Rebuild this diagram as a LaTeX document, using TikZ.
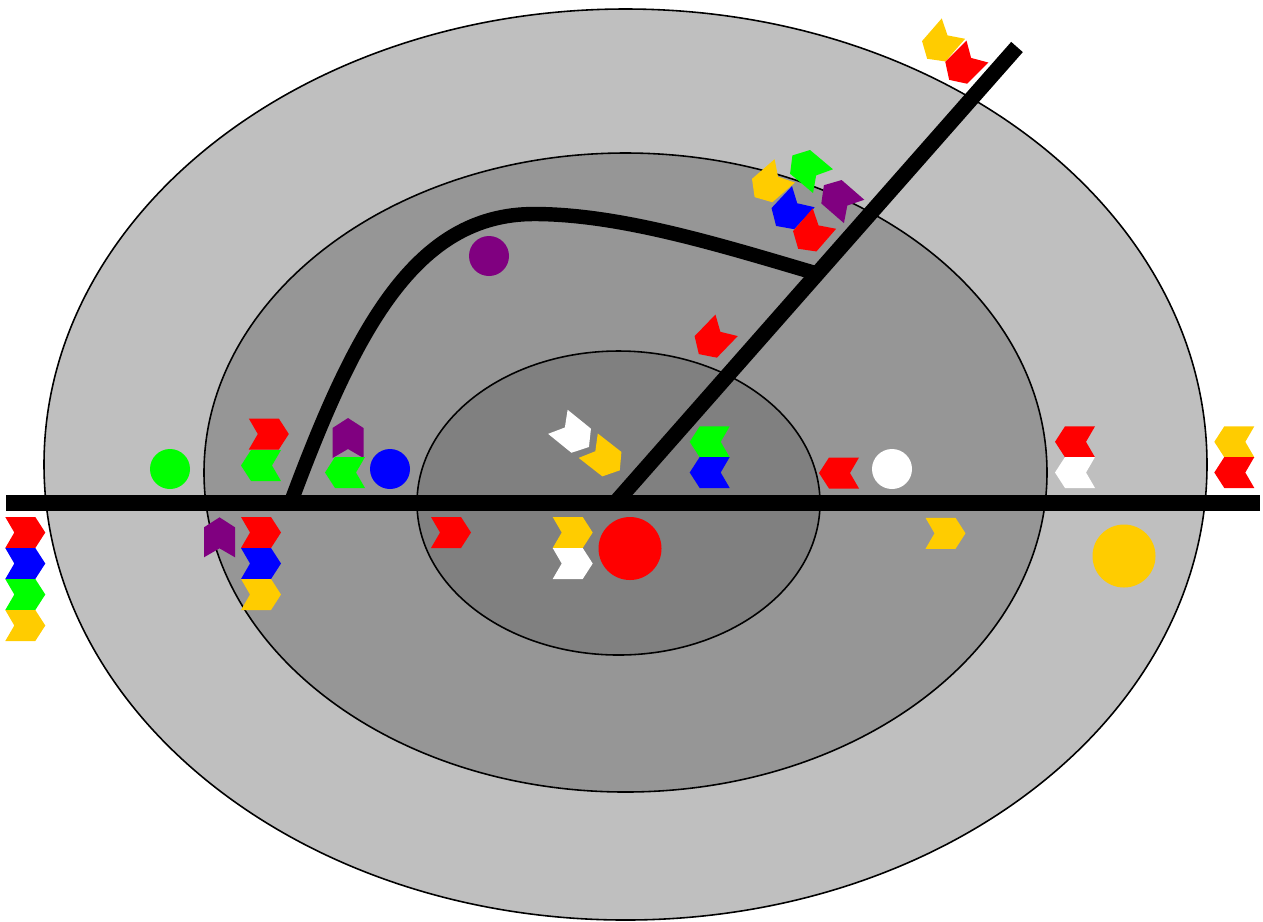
\documentclass[tikz,border=0pt]{standalone}
\usepackage{tikz}
\usepackage{xcolor}
\definecolor{ringOuter}{HTML}{BFBFBF}
\definecolor{ringMid}{HTML}{969696}
\definecolor{ringInner}{HTML}{808080}
\definecolor{tagYellow}{HTML}{FFCC00}
\definecolor{tagPurple}{HTML}{800080}
\definecolor{tagGreen}{HTML}{00FF00}

% one chevron: x, y, heading, colour
\newcommand{\chev}[4]{%
  \fill[#4,shift={(#1,#2)},rotate=#3]
    (-20,-15.5) -- (10,-15.5) -- (20,0) -- (10,15.5) -- (-20,15.5) -- (-11,0) -- cycle;}

\begin{document}
\begin{tikzpicture}[x=0.02cm,y=-0.02cm,
  ring/.style={draw=black,line width=0.9pt},
  track/.style={black,line width=8.8pt},
  spur/.style={black,line width=8.2pt}]

  \useasboundingbox (0,0) rectangle (1263,921);

  % zones
  \draw[ring,fill=ringOuter] (625.5,464.5) ellipse (581.5 and 455.5);
  \draw[ring,fill=ringMid] (625.5,472.5) ellipse (421.5 and 319.5);
  \draw[ring,fill=ringInner] (618.5,503) ellipse (201.5 and 152);

  % tracks
  \coordinate (west) at (6,502.8);
  \coordinate (east) at (1260,502.8);
  \coordinate (hub) at (616,502);
  \coordinate (tip) at (1017,47);
  \coordinate (fork) at (815,273);
  \coordinate (foot) at (291,502);
  \draw[track] (west) -- (east);
  \draw[track] (hub) -- (tip);
  \draw[spur] (foot) .. controls (355,330) and (415,214) .. (534,214)
    .. controls (620,214) and (720,245) .. (fork);

  % dots
  \fill[tagGreen] (170,469) circle (20);
  \fill[blue] (390,469) circle (20);
  \fill[tagPurple] (489,256) circle (20);
  \fill[white] (892,469) circle (20);
  \fill[red] (630,548.5) circle (31.5);
  \fill[tagYellow] (1124,556) circle (31.5);

  % chevrons left of the rings
  \chev{25.3}{532.5}{0}{red}
  \chev{25.3}{563.5}{0}{blue}
  \chev{25.3}{594.5}{0}{tagGreen}
  \chev{25.3}{625.5}{0}{tagYellow}

  \chev{268.8}{434}{0}{red}
  \chev{261}{465.5}{180}{tagGreen}
  \chev{219.5}{537.3}{90}{tagPurple}
  \chev{261}{532.5}{0}{red}
  \chev{261}{563.5}{0}{blue}
  \chev{261}{594.5}{0}{tagYellow}

  \chev{348}{438}{90}{tagPurple}
  \chev{345}{472.5}{180}{tagGreen}

  % inner ring
  \chev{451}{532.5}{0}{red}
  \chev{572.7}{532.5}{0}{tagYellow}
  \chev{572.7}{563.5}{0}{white}
  \chev{573.4}{434.4}{-39}{white}
  \chev{604}{458}{-38}{tagYellow}
  \chev{709.7}{441.8}{180}{tagGreen}
  \chev{709.7}{472.5}{180}{blue}

  % right side
  \chev{839}{473}{180}{red}
  \chev{945.5}{533.3}{0}{tagYellow}
  \chev{1075}{441.8}{180}{red}
  \chev{1075}{472.5}{180}{white}
  \chev{1234.3}{441.8}{180}{tagYellow}
  \chev{1234.3}{472.5}{180}{red}

  % along the diagonal
  \chev{712.7}{339.7}{-134}{red}
  \chev{807.7}{168.3}{140}{tagGreen}
  \chev{839}{198.3}{139}{tagPurple}
  \chev{769.7}{184}{-139}{tagYellow}
  \chev{789.7}{211.3}{-133}{blue}
  \chev{811.3}{233.7}{-131}{red}
  \chev{940.3}{43.7}{-131}{tagYellow}
  \chev{963.3}{65.7}{-135}{red}
\end{tikzpicture}
\end{document}
